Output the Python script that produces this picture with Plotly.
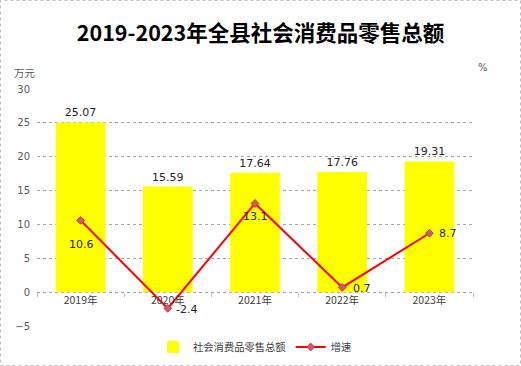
import plotly.graph_objects as go

categories = ["2019年", "2020年", "2021年", "2022年", "2023年"]
retail_sales = [25.07, 15.59, 17.64, 17.76, 19.31]
growth = [10.6, -2.4, 13.1, 0.7, 8.7]
y_ticks = [-5, 0, 5, 10, 15, 20, 25, 30]

# label offsets (pixels) for growth data labels
growth_label_dx = [1, 19, 0, 20, 19]
growth_label_dy = [-24, -1, -13, -1, 0]

W, H = 521, 366
ML, MR, MT, MB = 37, 48, 89, 40
PW, PH = W - ML - MR, H - MT - MB

font_cjk = "Noto Sans CJK SC, Microsoft YaHei, sans-serif"
font_num = "DejaVu Sans, Tahoma, sans-serif"

fig = go.Figure()
fig.add_trace(go.Bar(
    x=categories, y=retail_sales, name="社会消费品零售总额",
    marker=dict(color="#FFFF00", line=dict(width=0)),
    text=[f"{v:.2f}" for v in retail_sales], textposition="outside",
    textfont=dict(size=11, color="#262626", family=font_num),
    cliponaxis=False,
))
fig.add_trace(go.Scatter(
    x=categories, y=growth, name="增速", mode="lines+markers",
    line=dict(color="#FF0000", width=2),
    marker=dict(symbol="diamond", size=6, color="#C06080", line=dict(color="#E03030", width=1)),
    cliponaxis=False,
))

annotations = []
for c, v, dx, dy in zip(categories, growth, growth_label_dx, growth_label_dy):
    annotations.append(dict(x=c, y=v, xref="x", yref="y", text=str(v), showarrow=False,
                            xshift=dx, yshift=dy, xanchor="center", yanchor="middle",
                            font=dict(size=11, color="#262626", family=font_num)))

ymin, ymax = -5, 30
annotations += [
    dict(text="万元", xref="paper", yref="paper", x=-25 / PW, y=(MT + PH - 72) / PH,
         xanchor="left", yanchor="middle", showarrow=False,
         font=dict(size=10.5, color="#595959", family=font_cjk)),
    dict(text="%", xref="paper", yref="paper", x=(483 - ML) / PW, y=(MT + PH - 67) / PH,
         xanchor="center", yanchor="middle", showarrow=False,
         font=dict(size=10, color="#595959", family=font_num)),
]

fig.update_layout(
    width=W, height=H,
    margin=dict(l=ML, r=MR, t=MT, b=MB, autoexpand=False),
    paper_bgcolor="white", plot_bgcolor="white",
    title=dict(text="<b>2019-2023年全县社会消费品零售总额</b>", x=0.5, xanchor="center",
               y=1 - 33 / H, yanchor="middle",
               font=dict(size=21.5, color="#000000", family=font_cjk)),
    bargap=0.43,
    showlegend=True,
    legend=dict(orientation="h", x=0.5, xanchor="center", y=-(347 - (MT + PH)) / PH, yanchor="middle",
                font=dict(size=10.3, color="#404040", family=font_cjk), traceorder="normal"),
    xaxis=dict(
        anchor="free", position=(0 - ymin) / (ymax - ymin), automargin=False,
        showgrid=False, showline=False, zeroline=False,
        ticks="outside", tickson="boundaries", ticklen=4, tickcolor="#BFBFBF",
        tickfont=dict(size=10.5, color="#404040", family=font_cjk),
    ),
    yaxis=dict(
        range=[ymin, ymax], tickvals=y_ticks, showgrid=True, automargin=False,
        gridcolor="#A6A6A6", griddash="dot", gridwidth=1,
        zeroline=False, showline=False,
        tickfont=dict(size=10, color="#595959", family=font_num),
        ticks="", ticklabelstandoff=6,
    ),
    annotations=annotations,
    shapes=[
        dict(type="rect", xref="paper", yref="paper",
             x0=-(ML - 0.5) / PW, x1=(W - ML - 0.5) / PW,
             y0=-(MB - 0.5) / PH, y1=(PH + MT - 0.5) / PH,
             line=dict(color="#BFBFBF", width=1, dash="dot")),
    ],
)

fig.write_html("out.html", config={"displayModeBar": False},
               post_script="document.body.style.margin='0';document.body.style.overflow='hidden';")
